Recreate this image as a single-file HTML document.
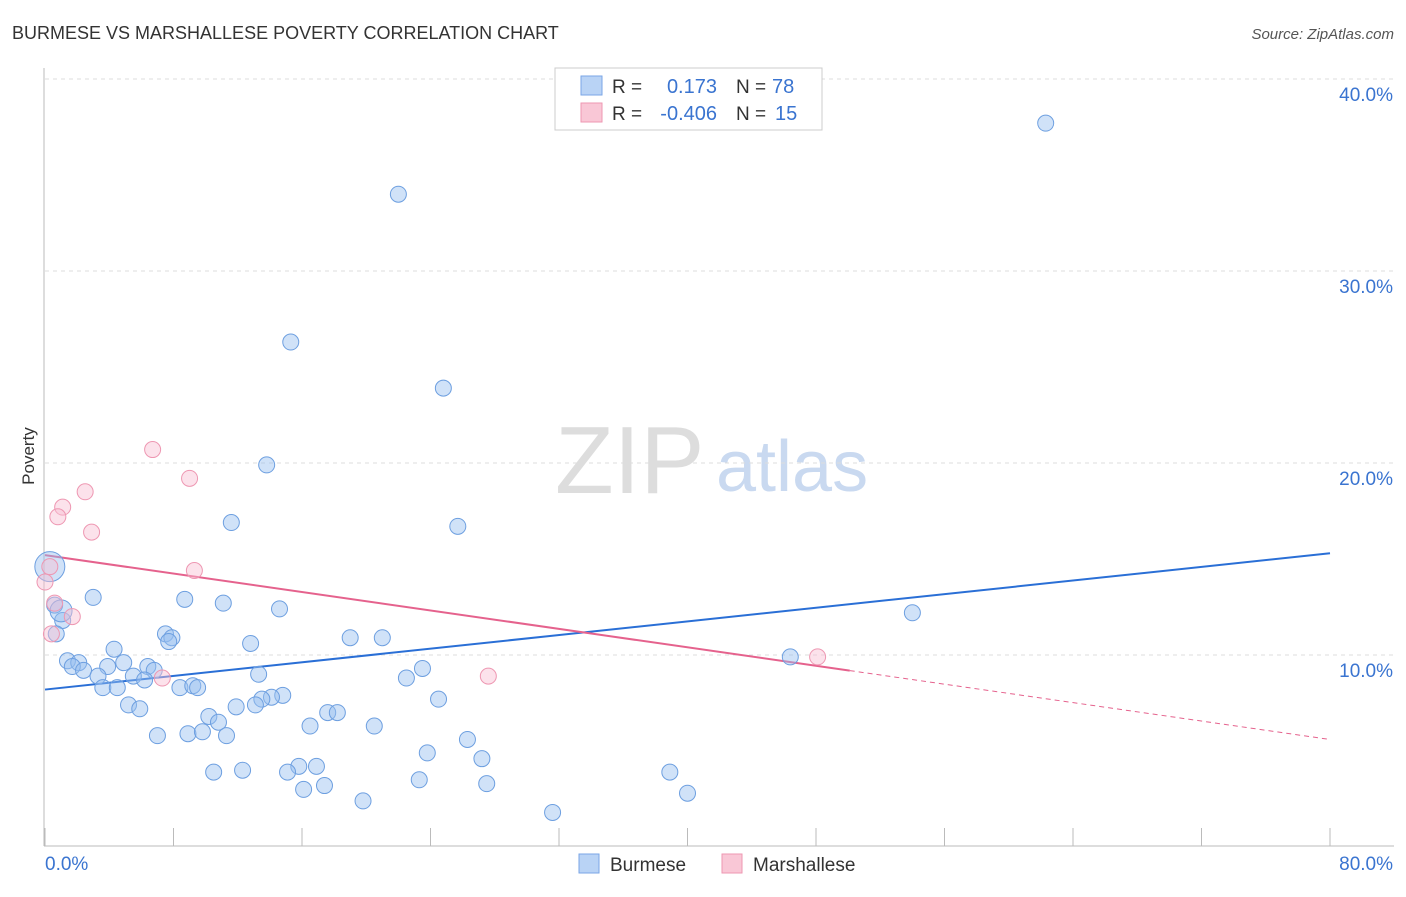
<!DOCTYPE html>
<html><head><meta charset="utf-8"><style>
body{margin:0;background:#fff;font-family:"Liberation Sans",sans-serif;}
svg text{font-family:"Liberation Sans",sans-serif;}
</style></head><body>
<svg id="chart" width="1406" height="892" xmlns="http://www.w3.org/2000/svg">
<text x="12" y="39" font-size="18" fill="#333">BURMESE VS MARSHALLESE POVERTY CORRELATION CHART</text>
<text x="1394" y="39" font-size="15" fill="#555" font-style="italic" text-anchor="end">Source: ZipAtlas.com</text>
<text x="34" y="456" font-size="17" fill="#333" transform="rotate(-90 34 456)" text-anchor="middle">Poverty</text>
<text x="555" y="493" font-size="96" fill="#ddd" font-family="Liberation Serif">ZIP</text>
<text x="716" y="491" font-size="72" fill="#c9d9f0">atlas</text>
<g id="grid"></g><g id="axes"></g><g id="lines"></g><g id="pts"></g>
<g>
<rect x="555" y="68" width="267" height="62" fill="#fff" stroke="#ccc"/>
<rect x="581" y="76" width="21" height="19" fill="#b9d3f5" stroke="#7aa6e6"/>
<rect x="581" y="103" width="21" height="19" fill="#f9c7d6" stroke="#ee97b2"/>
<text x="612" y="93" font-size="19" fill="#333">R =</text><text x="717" y="93" font-size="20" fill="#3a74d0" text-anchor="end">0.173</text>
<text x="736" y="93" font-size="19" fill="#333">N =</text><text x="772" y="93" font-size="20" fill="#3a74d0">78</text>
<text x="612" y="120" font-size="19" fill="#333">R =</text><text x="717" y="120" font-size="20" fill="#3a74d0" text-anchor="end">-0.406</text>
<text x="736" y="120" font-size="19" fill="#333">N =</text><text x="775" y="120" font-size="20" fill="#3a74d0">15</text>
</g>
<g>
<rect x="579" y="854" width="20" height="19" fill="#b9d3f5" stroke="#7aa6e6"/>
<text x="610" y="871" font-size="19" fill="#333">Burmese</text>
<rect x="722" y="854" width="20" height="19" fill="#f9c7d6" stroke="#ee97b2"/>
<text x="753" y="871" font-size="19" fill="#333">Marshallese</text>
</g>
</svg>
<script>
const yTicks=[10,20,30,40];
const yTickLabels=["10.0%","20.0%","30.0%","40.0%"];
const xTicks=[0,8,16,24,32,40,48,56,64,72,80];
const burX=[62.3,22.0,15.3,24.8,13.8,11.6,25.7,0.3,3.0,8.7,11.1,14.6,54.0,0.6,1.1,0.7,7.5,7.9,7.7,19.0,21.0,12.8,4.3,46.4,1.4,2.1,1.7,2.4,3.9,4.9,6.4,6.8,3.3,5.5,6.2,13.3,23.5,22.5,3.6,4.5,8.4,9.2,9.5,5.2,5.9,14.8,14.1,13.5,13.1,11.9,24.5,10.2,10.8,17.6,18.2,16.5,20.5,7.0,8.9,9.8,11.3,26.3,23.8,27.2,15.8,16.9,15.1,12.3,10.5,38.9,23.3,17.4,16.1,27.5,40.0,19.8,31.6,1.0];
const burY=[37.7,34.0,26.3,23.9,19.9,16.9,16.7,14.6,13.0,12.9,12.7,12.4,12.2,12.6,11.8,11.1,11.1,10.9,10.7,10.9,10.9,10.6,10.3,9.9,9.7,9.6,9.4,9.2,9.4,9.6,9.4,9.2,8.9,8.9,8.7,9.0,9.3,8.8,8.3,8.3,8.3,8.4,8.3,7.4,7.2,7.9,7.8,7.7,7.4,7.3,7.7,6.8,6.5,7.0,7.0,6.3,6.3,5.8,5.9,6.0,5.8,5.6,4.9,4.6,4.2,4.2,3.9,4.0,3.9,3.9,3.5,3.2,3.0,3.3,2.8,2.4,1.8,12.3];
const marX=[6.7,9.0,2.5,1.1,0.8,2.9,9.3,0,0.6,1.7,0.4,7.3,48.1,27.6,0.3];
const marY=[20.7,19.2,18.5,17.7,17.2,16.4,14.4,13.8,12.7,12.0,11.1,8.8,9.9,8.9,14.6];
const burLine=[8.2,15.3];
const marLine=[15.2,5.6];
const marSolidEnd=50.1;
const NS="http://www.w3.org/2000/svg";
const sx=v=>45+v*(1330-45)/80;
const sy=v=>847-v*19.2;
function mk(t,a,p){const e=document.createElementNS(NS,t);for(const k in a)e.setAttribute(k,a[k]);p.appendChild(e);return e;}
const grid=document.getElementById('grid'),axes=document.getElementById('axes'),lines=document.getElementById('lines'),pts=document.getElementById('pts');
yTicks.forEach((t,i)=>{
 const l=mk('line',{x1:45,x2:1394,y1:sy(t),y2:sy(t),stroke:'#ddd','stroke-dasharray':'4,4'},grid);
 
 
 const tx=mk('text',{x:1393,y:sy(t)+22,'font-size':19,fill:'#3a74d0','text-anchor':'end'},grid);
 tx.textContent=yTickLabels[i];
 
 
});
const ax=mk('line',{x1:44,x2:44,y1:68,y2:846,stroke:'#bbb'},axes);


const bx=mk('line',{x1:44,x2:1394,y1:846,y2:846,stroke:'#bbb'},axes);


xTicks.forEach(t=>{
 const l=mk('line',{x1:sx(t),x2:sx(t),y1:828,y2:846,stroke:'#bbb'},axes);
 
 
});
const x0=mk('text',{x:45,y:870,'font-size':19,fill:'#3a74d0'},axes);x0.textContent='0.0%';


const x1=mk('text',{x:1393,y:870,'font-size':19,fill:'#3a74d0','text-anchor':'end'},axes);x1.textContent='80.0%';


burX.forEach((x,i)=>{
 const c=mk('circle',{cx:sx(x),cy:sy(burY[i]),r:(i==7?15:(i==77?11:8)),fill:'rgba(150,190,240,0.45)',stroke:'#6d9fe0','stroke-width':1},pts);
 
 
});
marX.forEach((x,i)=>{
 const c=mk('circle',{cx:sx(x),cy:sy(marY[i]),r:8,fill:'rgba(248,190,210,0.45)',stroke:'#ee97b2','stroke-width':1},pts);
 
 
});
const bl=mk('line',{x1:sx(0),y1:sy(burLine[0]),x2:sx(80),y2:sy(burLine[1]),stroke:'#2a6fd6','stroke-width':2},lines);


const mAt=x=>marLine[0]+(marLine[1]-marLine[0])*x/80;
const ml=mk('line',{x1:sx(0),y1:sy(mAt(0)),x2:sx(marSolidEnd),y2:sy(mAt(marSolidEnd)),stroke:'#e5628d','stroke-width':2},lines);


const md=mk('line',{x1:sx(marSolidEnd),y1:sy(mAt(marSolidEnd)),x2:sx(80),y2:sy(mAt(80)),stroke:'#e5628d','stroke-width':1,'stroke-dasharray':'5,4'},lines);


</script>
</body></html>
